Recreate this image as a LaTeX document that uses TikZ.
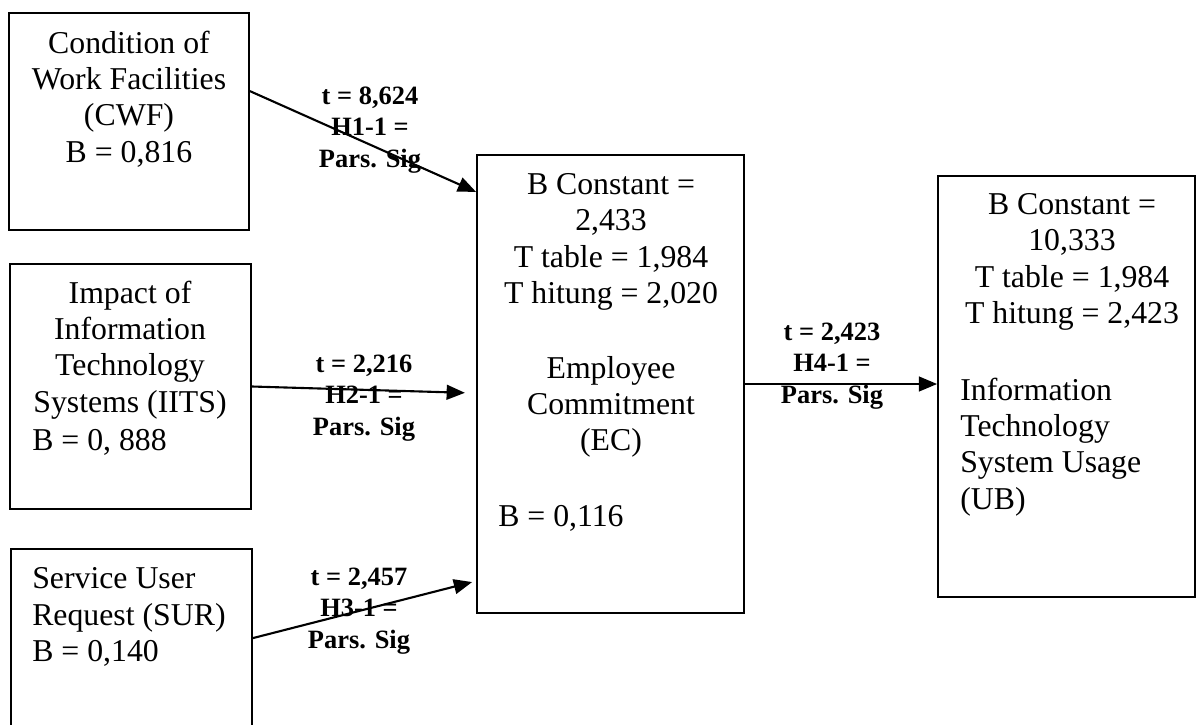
\documentclass[tikz,border=0pt]{standalone}
\usepackage{fontspec}
\setmainfont{Liberation Serif}
\usetikzlibrary{arrows.meta}

\begin{document}
\begin{tikzpicture}[x=0.025cm, y=-0.025cm,
    box/.style={draw, line width=1.2pt, inner sep=0pt},
    txt/.style={inner sep=0pt, align=center, font=\fontsize{22.6}{25.8}\selectfont},
    lbl/.style={inner sep=0pt, align=center, font=\fontsize{18.8}{22.5}\selectfont\bfseries},
    arr/.style={line width=1.5pt, -{Triangle[length=13pt, width=10.5pt]}}]
    \useasboundingbox (0,0) rectangle (1197,724);
    \clip (0,0) rectangle (1197,724);
    \node[box, minimum width=6cm, minimum height=5.425cm] (cwf) at (129,121.5) {};
    \node[box, minimum width=6.025cm, minimum height=6.125cm] (iits) at (130.5,386.5) {};
    \node[box, minimum width=6.025cm, minimum height=5.275cm] (sur) at (131.5,654.5) {};
    \node[box, minimum width=6.675cm, minimum height=11.45cm] (ec) at (610.5,384) {};
    \node[box, minimum width=6.425cm, minimum height=10.525cm] (ub) at (1066.5,386.5) {};
    \node[txt] (cwftext) at (129,99) {Condition of\\Work Facilities\\(CWF)\\B = 0,816};
    \node[txt] (iitstext) at (130,350) {Impact of\\Information\\Technology\\Systems (IITS)};
    \node[txt, anchor=west] (iitsb) at (32,442) {B = 0, 888};
    \node[txt, align=left, anchor=west] (surtext) at (32,617) {Service User\\Request (SUR)\\B = 0,140};
    \node[txt] (ecconst) at (611,242) {B Constant =\\2,433\\T table = 1,984\\T hitung = 2,020};
    \node[txt] (ectext) at (611,407) {Employee\\Commitment\\(EC)};
    \node[txt, anchor=west] (ecb) at (498,518) {B = 0,116};
    \node[txt] (ubconst) at (1072,262) {B Constant =\\10,333\\T table = 1,984\\T hitung = 2,423};
    \node[txt, align=left, anchor=west] (ubtext) at (960,447) {Information\\Technology\\System Usage\\(UB)};
    \draw[arr] ([yshift=0.76cm]cwf.east) -- ([yshift=4.8cm]ec.west);
    \draw[arr] (iits.east) -- ([xshift=-0.28cm, yshift=-0.22cm]ec.west);
    \draw[arr] ([yshift=0.41cm]sur.east) -- ([xshift=-0.1cm, yshift=-4.95cm]ec.west);
    \draw[arr] (ec.east) -- (ec.east -| ub.west);
    \node[lbl] (h1) at (370,130) {t = 8,624\\H1-1 =\\Pars. Sig};
    \node[lbl] (h2) at (364,398) {t = 2,216\\H2-1 =\\Pars. Sig};
    \node[lbl] (h3) at (359,611) {t = 2,457\\H3-1 =\\Pars. Sig};
    \node[lbl] (h4) at (832,366) {t = 2,423\\H4-1 =\\Pars. Sig};
\end{tikzpicture}
\end{document}
